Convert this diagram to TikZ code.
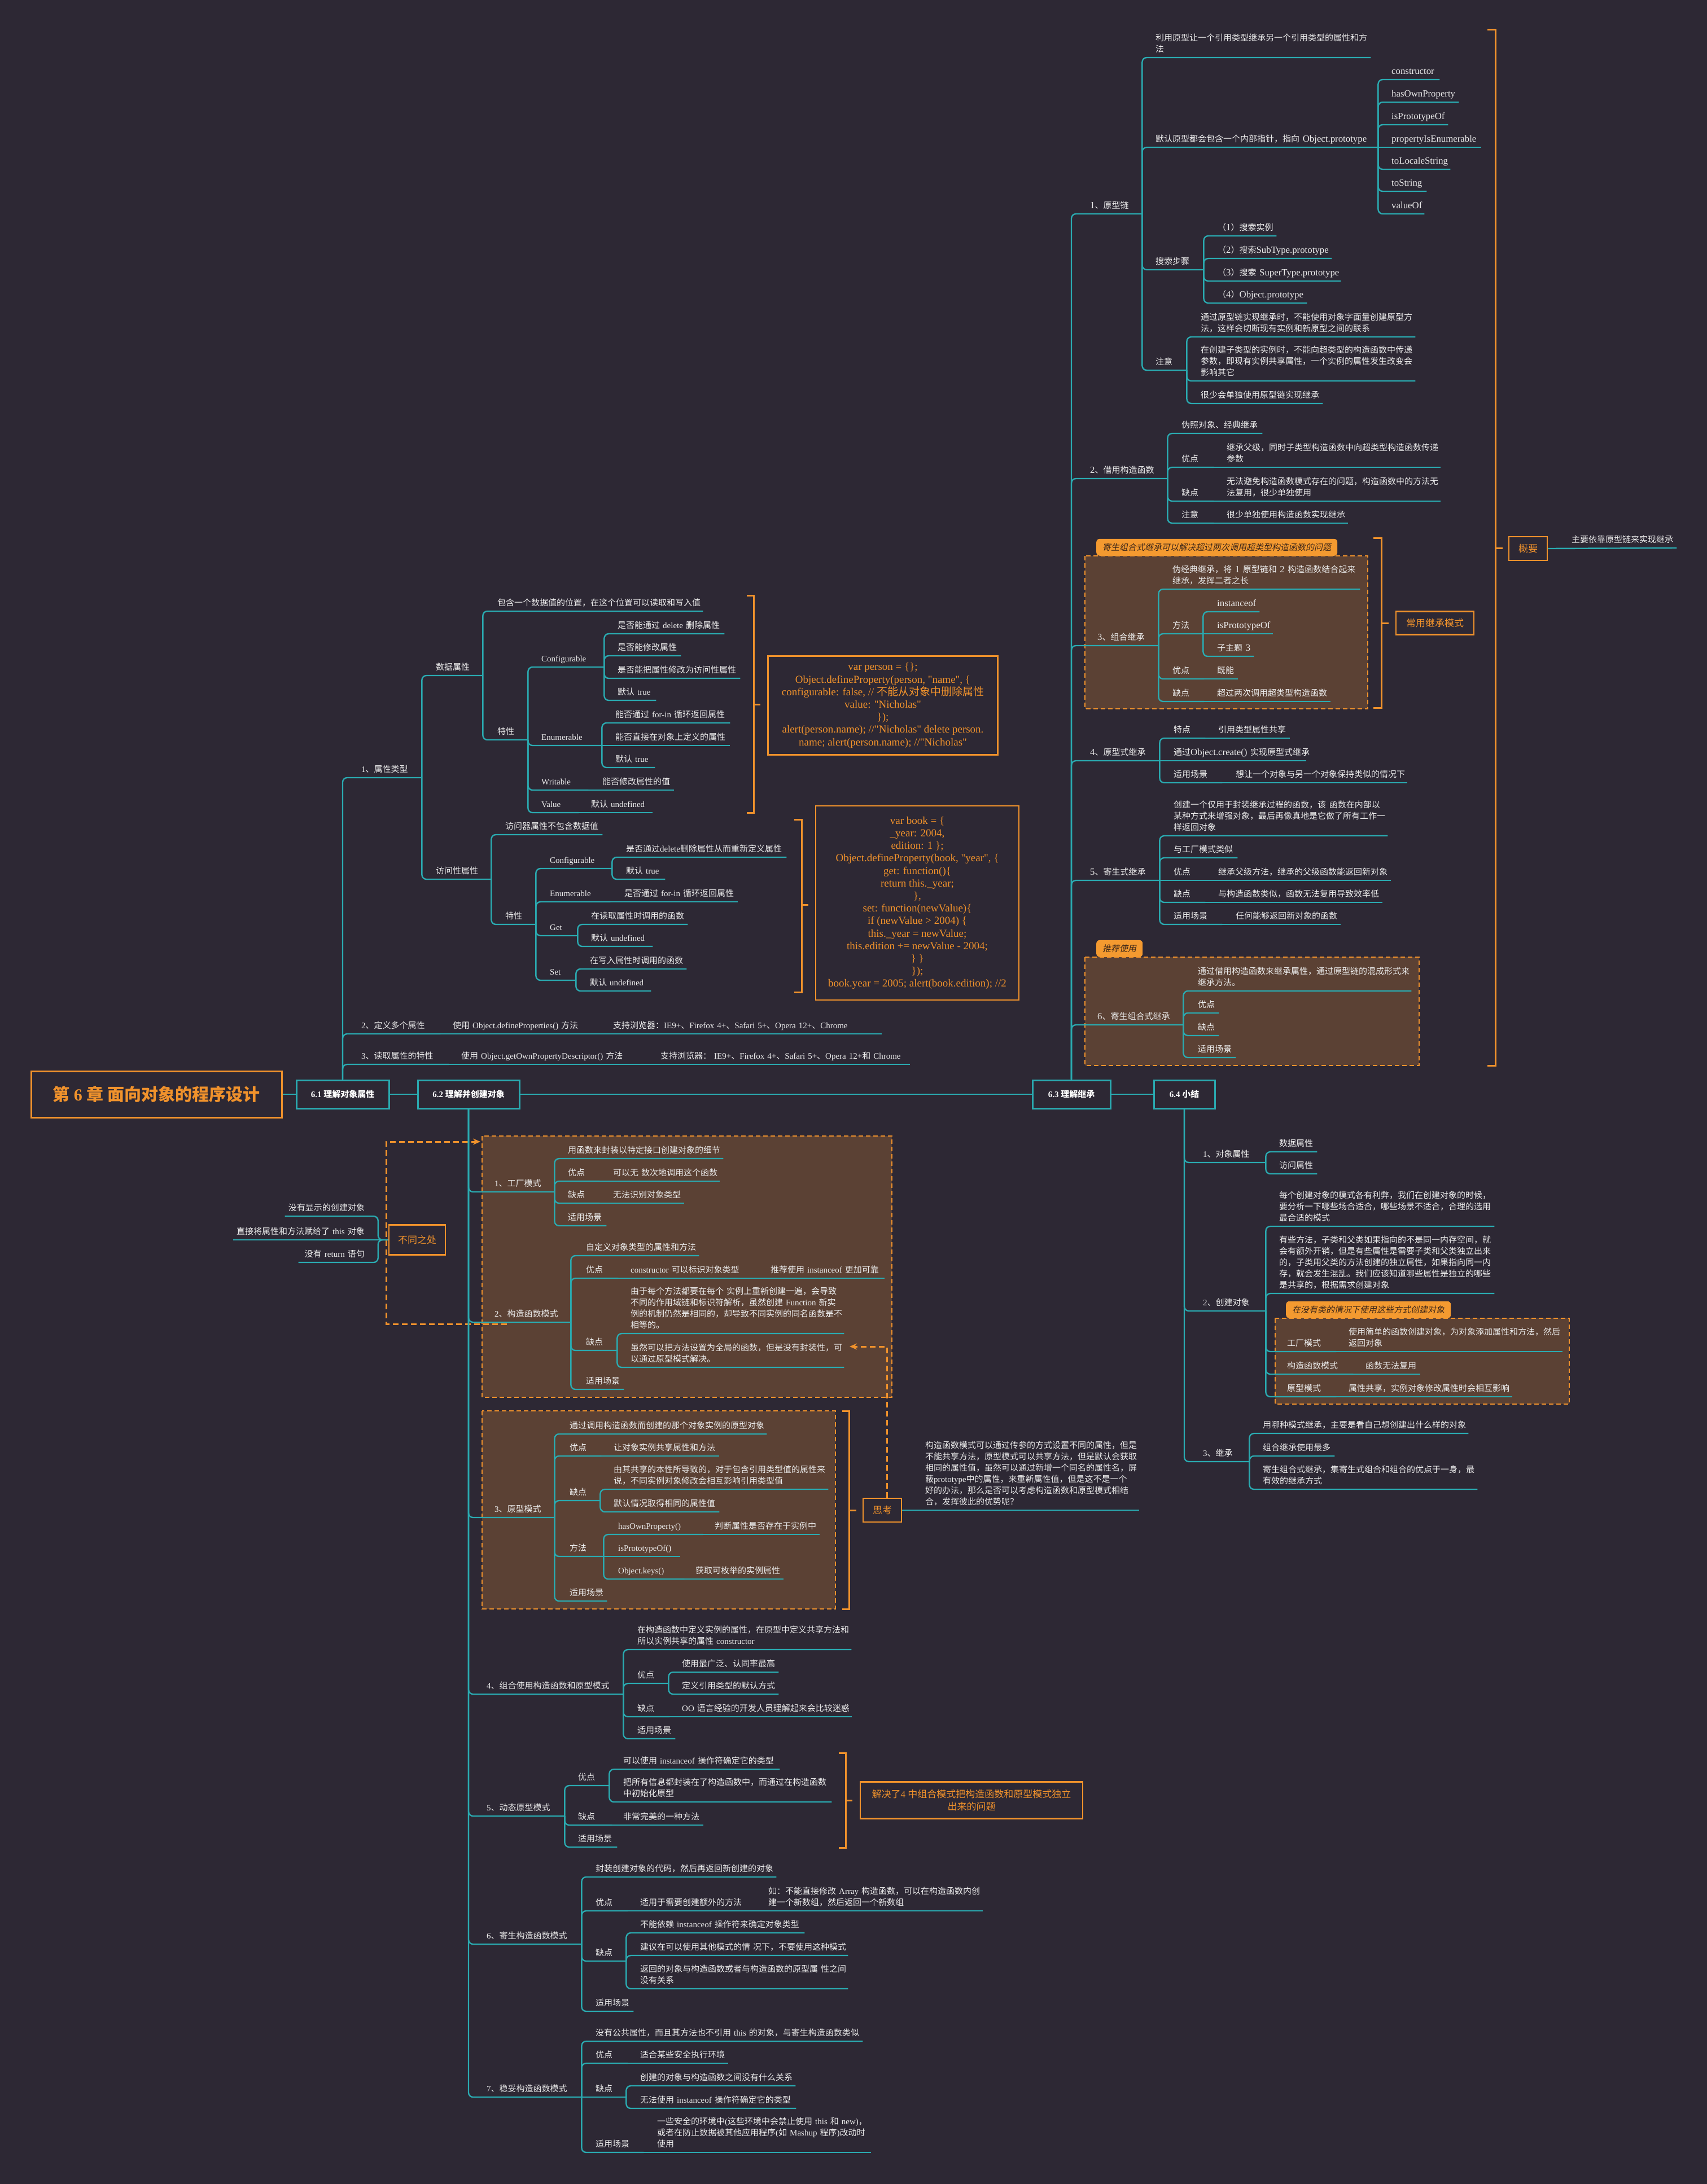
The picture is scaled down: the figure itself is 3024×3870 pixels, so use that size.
\documentclass[tikz,border=0pt]{standalone}
\usepackage{fontspec}
\setmainfont[Ligatures=TeXOff]{Liberation Serif}
\newfontfamily\widelatin[Scale=1.12,Ligatures=TeXOff]{Liberation Serif}
\newfontfamily\cjkfont[ItalicFont={Noto Sans CJK SC},ItalicFeatures={FakeSlant=0.2}]{Noto Sans CJK SC}
\usetikzlibrary{arrows.meta}

% Chinese characters switch to the CJK font by themselves
\XeTeXinterchartokenstate=1
\ifdefined\newXeTeXintercharclass \newXeTeXintercharclass\cjkcls \else \chardef\cjkcls=7 \fi
\newcount\cjkcnt
\newcommand\cjkrange[2]{%
  \cjkcnt=#1\relax
  \loop
    \XeTeXcharclass\cjkcnt=\cjkcls
  \ifnum\cjkcnt<#2\relax
    \advance\cjkcnt by 1
  \repeat}
\cjkrange{"3000}{"303F}
\cjkrange{"4E00}{"9FFF}
\cjkrange{"FF00}{"FFEF}
\let\latinfont\rmfamily
\XeTeXinterchartoks 0 \cjkcls = {\cjkfont}
\XeTeXinterchartoks 4095 \cjkcls = {\cjkfont}
\XeTeXinterchartoks \cjkcls 0 = {\latinfont}
\XeTeXinterchartoks \cjkcls 4095 = {\latinfont}

\newcommand\bodyfont{\fontsize{15}{20}\selectfont}

\definecolor{bgc}{HTML}{2D2834}
\definecolor{lnc}{HTML}{2AAAB0}
\definecolor{orc}{HTML}{F0922C}
\definecolor{brc}{HTML}{5B4134}
\definecolor{txc}{HTML}{EBEBEB}
\definecolor{tbc}{HTML}{F49A30}
\definecolor{tbt}{HTML}{3A2519}

\tikzset{
  tp/.style={anchor=south west, text width=#1pt, align=left, inner xsep=0pt, inner ysep=3pt,
    text=txc, font=\bodyfont, execute at end node={\strut}},
  tpw/.style={tp=#1, font={\bodyfont\let\latinfont\widelatin\widelatin}},
  tpl/.style={anchor=south east, text width=#1pt, align=right, inner xsep=0pt, inner ysep=3pt,
    text=txc, font=\bodyfont, execute at end node={\strut}},
  link/.style={draw=lnc, line width=2.4pt, rounded corners=8pt},
  sect/.style={draw=lnc, line width=3pt, fill=bgc, text=white, font=\bfseries\bodyfont,
    minimum height=50pt, inner sep=0pt},
  obox/.style={draw=orc, line width=2.5pt, fill=bgc, text=orc, font=\fontsize{17}{22}\selectfont,
    inner sep=0pt, align=center},
  code/.style={draw=orc, line width=2.5pt, text=orc, font=\fontsize{19}{22.2}\selectfont,
    align=center, inner sep=0pt},
  grp/.style={draw=orc, fill=brc, line width=2pt, dash pattern=on 8pt off 5pt},
  tab/.style={fill=tbc, rounded corners=6pt, anchor=south west, minimum height=30pt,
    inner xsep=11pt, inner ysep=0pt, text=tbt, font=\itshape\bodyfont},
  brk/.style={draw=orc, line width=3pt},
  rel/.style={draw=orc, line width=3pt, dash pattern=on 10pt off 6pt, -{Stealth[length=13pt,width=11pt]}}
}

\begin{document}
\begin{tikzpicture}[x=1pt,y=-1pt]
\useasboundingbox (0,0) rectangle (3024,3870);
\fill[bgc] (0,0) rectangle (3024,3870);

% brown groups and their tabs
\draw[grp] (854,2013) rectangle (1580,2476);
\draw[grp] (854,2500) rectangle (1480,2851);
\draw[grp] (1922,985) rectangle (2423,1256);
\draw[grp] (1922,1696) rectangle (2514,1888);
\draw[grp] (2259,2336) rectangle (2780,2488);
\node[tab] (tab1) at (1942,985) {寄生组合式继承可以解决超过两次调用超类型构造函数的问题};
\node[tab] (tab2) at (1942,1696) {推荐使用};
\node[tab] (tab3) at (2278,2336) {在没有类的情况下使用这些方式创建对象};

% brackets
\draw[brk] (1323,1055) -| (1335,1440) -- (1323,1440);
\draw[brk] (1335,1248) -- (1347,1248);
\draw[brk] (1407,1452) -| (1420,1758) -- (1407,1758);
\draw[brk] (1420,1603) -- (1432,1603);
\draw[brk] (2433,953) -| (2447,1254) -- (2433,1254);
\draw[brk] (2447,1104) -- (2460,1104);
\draw[brk] (2635,53) -| (2649,1888) -- (2635,1888);
\draw[brk] (2649,971) -- (2662,971);
\draw[brk] (1492,2500) -| (1504,2851) -- (1492,2851);
\draw[brk] (1504,2676) -- (1517,2676);
\draw[brk] (1486,3106) -| (1498,3274) -- (1486,3274);
\draw[brk] (1498,3190) -- (1510,3190);

% main line
\node[obox, line width=3pt, font=\bfseries\fontsize{30}{36}\selectfont, minimum width=444pt, minimum height=82pt] (title) at (277,1939) {第 6 章 面向对象的程序设计};
\node[sect, minimum width=164pt] (s61) at (607,1939) {6.1~理解对象属性};
\node[sect, minimum width=180pt] (s62) at (830,1939) {6.2~理解并创建对象};
\node[sect, minimum width=138pt] (s63) at (1898,1939) {6.3~理解继承};
\node[sect, minimum width=108pt] (s64) at (2098,1939) {6.4~小结};
\draw[link] (title) -- (s61);
\draw[link] (s61) -- (s62);
\draw[link] (s62) -- (s63);
\draw[link] (s63) -- (s64);

% code boxes and labels
\node[code, minimum width=407pt, minimum height=175pt] (code1) at (1564,1250) {var person = \{\};\\
Object.defineProperty(person, "name", \{\\
configurable: false,  // 不能从对象中删除属性\\
value: "Nicholas"\\
\});\\
alert(person.name); //"Nicholas" delete person.\\
name; alert(person.name); //"Nicholas"};
\node[code, minimum width=360pt, minimum height=344pt] (code2) at (1625,1600) {var book = \{\\
\_year: 2004,\\
edition: 1 \};\\
Object.defineProperty(book, "year", \{\\
get: function()\{\\
return this.\_year;\\
\},\\
set: function(newValue)\{\\
if (newValue > 2004) \{\\
this.\_year = newValue;\\
this.edition += newValue - 2004;\\
\} \}\\
\});\\
book.year = 2005; alert(book.edition); //2};
\node[obox, minimum width=68pt, minimum height=42pt] (gaiyao) at (2707,972) {概要};
\node[obox, minimum width=138pt, minimum height=41pt] (cyms) at (2542,1104) {常用继承模式};
\node[obox, minimum width=394pt, minimum height=65pt] (solve) at (1721,3190) {解决了4 中组合模式把构造函数和原型模式独立\\出来的问题};

% 6.1
\node[tp=107] (a1) at (640,1378) {1、属性类型};
\node[tp=83] (a11) at (772,1197) {数据属性};
\node[tp=364] (a111) at (881,1083) {包含一个数据值的位置，在这个位置可以读取和写入值};
\node[tp=54] (a112) at (881,1311) {特性};
\node[tp=111] (a1121) at (959,1182) {Configurable};
\node[tp=189] (a11211) at (1094,1123) {是否能通过~delete~删除属性};
\node[tp=112] (a11212) at (1094,1162) {是否能修改属性};
\node[tp=217] (a11213) at (1094,1202) {是否能把属性修改为访问性属性};
\node[tp=68] (a11214) at (1094,1241) {默认~true};
\node[tp=107] (a1122) at (959,1321) {Enumerable};
\node[tp=203] (a11221) at (1090,1281) {能否通过~for-in~循环返回属性};
\node[tp=203] (a11222) at (1090,1321) {能否直接在对象上定义的属性};
\node[tp=70] (a11223) at (1090,1360) {默认~true};
\node[tp=83] (a1123) at (959,1400) {Writable};
\node[tp=127] (a11231) at (1067,1400) {能否修改属性的值};
\node[tp=66] (a1124) at (959,1440) {Value};
\node[tp=109] (a11241) at (1047,1440) {默认~undefined};
\node[tp=98] (a12) at (772,1558) {访问性属性};
\node[tp=172] (a121) at (895,1479) {访问器属性不包含数据值};
\node[tp=54] (a122) at (895,1638) {特性};
\node[tp=110] (a1221) at (974,1539) {Configurable};
\node[tp=284] (a12211) at (1109,1519) {是否通过delete删除属性从而重新定义属性};
\node[tp=69] (a12212) at (1109,1558) {默认~true};
\node[tp=107] (a1222) at (974,1598) {Enumerable};
\node[tp=201] (a12221) at (1106,1598) {是否通过~for-in~循环返回属性};
\node[tp=49] (a1223) at (974,1658) {Get};
\node[tp=171] (a12231) at (1047,1638) {在读取属性时调用的函数};
\node[tp=109] (a12232) at (1047,1677) {默认~undefined};
\node[tp=46] (a1224) at (974,1737) {Set};
\node[tp=171] (a12241) at (1045,1717) {在写入属性时调用的函数};
\node[tp=108] (a12242) at (1045,1756) {默认~undefined};
\node[tp=140] (a2) at (640,1832) {2、定义多个属性};
\node[tp=263] (a21) at (802,1832) {使用~Object.defineProperties()~方法};
\node[tp=476] (a211) at (1086,1832) {支持浏览器：IE9+、Firefox~4+、Safari~5+、Opera~12+、Chrome};
\node[tp=155] (a3) at (640,1886) {3、读取属性的特性};
\node[tp=331] (a31) at (817,1886) {使用~Object.getOwnPropertyDescriptor()~方法};
\node[tp=442] (a311) at (1170,1886) {支持浏览器：~IE9+、Firefox~4+、Safari~5+、Opera~12+和~Chrome};

\foreach \ch in {a1,a2,a3} \draw[link] (s61.north) |- (\ch.south east);
\foreach \ch in {a11,a12} \draw[link] (a1.south east) |- (\ch.south east);
\foreach \ch in {a111,a112} \draw[link] (a11.south east) |- (\ch.south east);
\foreach \ch in {a1121,a1122,a1123,a1124} \draw[link] (a112.south east) |- (\ch.south east);
\foreach \ch in {a11211,a11212,a11213,a11214} \draw[link] (a1121.south east) |- (\ch.south east);
\foreach \ch in {a11221,a11223} \draw[link] (a1122.south east) |- (\ch.south east);
\draw[link] (a1122.south east) -- (a11222.south east);
\draw[link] (a1123.south east) -- (a11231.south east);
\draw[link] (a1124.south east) -- (a11241.south east);
\foreach \ch in {a121,a122} \draw[link] (a12.south east) |- (\ch.south east);
\foreach \ch in {a1221,a1222,a1223,a1224} \draw[link] (a122.south east) |- (\ch.south east);
\foreach \ch in {a12211,a12212} \draw[link] (a1221.south east) |- (\ch.south east);
\draw[link] (a1222.south east) -- (a12221.south east);
\foreach \ch in {a12231,a12232} \draw[link] (a1223.south east) |- (\ch.south east);
\foreach \ch in {a12241,a12242} \draw[link] (a1224.south east) |- (\ch.south east);
\draw[link] (a2.south east) -- (a21.south east) -- (a211.south east);
\draw[link] (a3.south east) -- (a31.south east) -- (a311.south east);

% 6.2
\node[tp=106] (b1) at (876,2112) {1、工厂模式};
\node[tp=275] (b11) at (1006,2053) {用函数来封装以特定接口创建对象的细节};
\node[tp=56] (b12) at (1006,2093) {优点};
\node[tp=189] (b121) at (1086,2093) {可以无~数次地调用这个函数};
\node[tp=56] (b13) at (1006,2132) {缺点};
\node[tp=126] (b131) at (1086,2132) {无法识别对象类型};
\node[tp=68] (b14) at (1006,2172) {适用场景};
\node[tp=135] (b2) at (876,2343) {2、构造函数模式};
\node[tp=200] (b21) at (1038,2225) {自定义对象类型的属性和方法};
\node[tp=57] (b22) at (1038,2265) {优点};
\node[tp=226] (b221) at (1117,2265) {constructor~可以标识对象类型};
\node[tp=202] (b222) at (1365,2265) {推荐使用~instanceof~更加可靠};
\node[tp=55] (b23) at (1038,2393) {缺点};
\node[tp=378] (b231) at (1117,2363) {由于每个方法都要在每个~实例上重新创建一遍，会导致\\不同的作用域链和标识符解析，虽然创建~Function~新实\\例的机制仍然是相同的，却导致不同实例的同名函数是不\\相等的。};
\node[tp=378] (b232) at (1117,2423) {虽然可以把方法设置为全局的函数，但是没有封装性，可\\以通过原型模式解决。};
\node[tp=67] (b24) at (1038,2462) {适用场景};
\node[tp=106] (c1) at (876,2689) {3、原型模式};
\node[tp=349] (c11) at (1009,2541) {通过调用构造函数而创建的那个对象实例的原型对象};
\node[tp=56] (c12) at (1009,2580) {优点};
\node[tp=187] (c121) at (1087,2580) {让对象实例共享属性和方法};
\node[tp=54] (c13) at (1009,2659) {缺点};
\node[tp=380] (c131) at (1087,2639) {由其共享的本性所导致的，对于包含引用类型值的属性来\\说，不同实例对象修改会相互影响引用类型值};
\node[tp=187] (c132) at (1087,2679) {默认情况取得相同的属性值};
\node[tp=60] (c14) at (1009,2758) {方法};
\node[tp=150] (c141) at (1095,2719) {hasOwnProperty()};
\node[tp=186] (c1411) at (1266,2719) {判断属性是否存在于实例中};
\node[tp=110] (c142) at (1095,2758) {isPrototypeOf()};
\node[tp=117] (c143) at (1095,2798) {Object.keys()};
\node[tp=156] (c1431) at (1232,2798) {获取可枚举的实例属性};
\node[tp=66] (c15) at (1009,2837) {适用场景};
\node[tp=242] (e1) at (862,3002) {4、组合使用构造函数和原型模式};
\node[tp=379] (e11) at (1129,2923) {在构造函数中定义实例的属性，在原型中定义共享方法和\\所以实例共享的属性~constructor};
\node[tp=55] (e12) at (1129,2983) {优点};
\node[tp=171] (e121) at (1208,2963) {使用最广泛、认同率最高};
\node[tp=171] (e122) at (1208,3002) {定义引用类型的默认方式};
\node[tp=57] (e13) at (1129,3042) {缺点};
\node[tp=301] (e131) at (1208,3042) {OO~语言经验的开发人员理解起来会比较迷惑};
\node[tp=67] (e14) at (1129,3081) {适用场景};
\node[tp=138] (f1) at (862,3218) {5、动态原型模式};
\node[tp=55] (f11) at (1024,3164) {优点};
\node[tp=277] (f111) at (1104,3135) {可以使用~instanceof~操作符确定它的类型};
\node[tp=369] (f112) at (1104,3193) {把所有信息都封装在了构造函数中，而通过在构造函数\\中初始化原型};
\node[tp=60] (f12) at (1024,3234) {缺点};
\node[tp=142] (f121) at (1104,3234) {非常完美的一种方法};
\node[tp=69] (f13) at (1024,3273) {适用场景};
\node[tp=168] (g1) at (862,3445) {6、寄生构造函数模式};
\node[tp=320] (g11) at (1055,3326) {封装创建对象的代码，然后再返回新创建的对象};
\node[tp=57] (g12) at (1055,3386) {优点};
\node[tp=206] (g121) at (1134,3386) {适用于需要创建额外的方法};
\node[tp=380] (g122) at (1361,3386) {如：不能直接修改~Array~构造函数，可以在构造函数内创\\建一个新数组，然后返回一个新数组};
\node[tp=54] (g13) at (1055,3475) {缺点};
\node[tp=291] (g131) at (1134,3425) {不能依赖~instanceof~操作符来确定对象类型};
\node[tp=368] (g132) at (1134,3465) {建议在可以使用其他模式的情~况下，不要使用这种模式};
\node[tp=368] (g133) at (1134,3524) {返回的对象与构造函数或者与构造函数的原型属~性之间\\没有关系};
\node[tp=67] (g14) at (1055,3564) {适用场景};
\node[tp=168] (h1) at (862,3716) {7、稳妥构造函数模式};
\node[tp=473] (h11) at (1055,3617) {没有公共属性，而且其方法也不引用~this~的对象，与寄生构造函数类似};
\node[tp=57] (h12) at (1055,3656) {优点};
\node[tp=156] (h121) at (1134,3656) {适合某些安全执行环境};
\node[tp=54] (h13) at (1055,3716) {缺点};
\node[tp=275] (h131) at (1134,3696) {创建的对象与构造函数之间没有什么关系};
\node[tp=276] (h132) at (1134,3736) {无法使用~instanceof~操作符确定它的类型};
\node[tp=85] (h14) at (1055,3814) {适用场景};
\node[tp=379] (h141) at (1164,3814) {一些安全的环境中(这些环境中会禁止使用~this~和~new)，\\或者在防止数据被其他应用程序(如~Mashup~程序)改动时\\使用};

% relations of 6.2
\coordinate (r1e) at (851,2023);
\draw[rel] ([xshift=22pt,yshift=-3pt]b2.south west) -| (684,2023) -- (r1e);
\node[obox, minimum width=100pt, minimum height=53pt] (diff) at (739,2197) {不同之处};
\node[tpl=141] (d1) at (646,2155) {没有显示的创建对象};
\node[tpl=233] (d2) at (646,2197) {直接将属性和方法赋给了~this~对象};
\node[tpl=117] (d3) at (646,2237) {没有~return~语句};
\draw[link] (diff.west) -- ++(-18,0) |- (d1.south west);
\draw[link] (diff.west) -- (d2.south west);
\draw[link] (diff.west) -- ++(-18,0) |- (d3.south west);
\node[obox, minimum width=68pt, minimum height=42pt] (think) at (1563,2676) {思考};
\node[tp=379] (th1) at (1639,2676) {构造函数模式可以通过传参的方式设置不同的属性，但是\\不能共享方法，原型模式可以共享方法，但是默认会获取\\相同的属性值，虽然可以通过新增一个同名的属性名，屏\\蔽prototype中的属性，来重新属性值，但是这不是一个\\好的办法，那么是否可以考虑构造函数和原型模式相结\\合，发挥彼此的优势呢？};
\draw[link] (think.east) -- (th1.south east);
\coordinate (r2e) at (1505,2386);
\draw[rel] ([xshift=8pt]think.north) |- (r2e);

\foreach \ch in {b1,b2,c1,e1,f1,g1,h1} \draw[link] (s62.south) |- (\ch.south east);
\foreach \ch in {b11,b12,b13,b14} \draw[link] (b1.south east) |- (\ch.south east);
\draw[link] (b12.south east) -- (b121.south east);
\draw[link] (b13.south east) -- (b131.south east);
\foreach \ch in {b21,b22,b23,b24} \draw[link] (b2.south east) |- (\ch.south east);
\draw[link] (b22.south east) -- (b221.south east) -- (b222.south east);
\foreach \ch in {b231,b232} \draw[link] (b23.south east) |- (\ch.south east);
\foreach \ch in {c11,c12,c13,c14,c15} \draw[link] (c1.south east) |- (\ch.south east);
\draw[link] (c12.south east) -- (c121.south east);
\foreach \ch in {c131,c132} \draw[link] (c13.south east) |- (\ch.south east);
\foreach \ch in {c141,c143} \draw[link] (c14.south east) |- (\ch.south east);
\draw[link] (c14.south east) -- (c142.south east);
\draw[link] (c141.south east) -- (c1411.south east);
\draw[link] (c143.south east) -- (c1431.south east);
\foreach \ch in {e11,e12,e13,e14} \draw[link] (e1.south east) |- (\ch.south east);
\foreach \ch in {e121,e122} \draw[link] (e12.south east) |- (\ch.south east);
\draw[link] (e13.south east) -- (e131.south east);
\foreach \ch in {f11,f12,f13} \draw[link] (f1.south east) |- (\ch.south east);
\foreach \ch in {f111,f112} \draw[link] (f11.south east) |- (\ch.south east);
\draw[link] (f12.south east) -- (f121.south east);
\foreach \ch in {g11,g12,g13,g14} \draw[link] (g1.south east) |- (\ch.south east);
\draw[link] (g12.south east) -- (g121.south east) -- (g122.south east);
\foreach \ch in {g131,g132,g133} \draw[link] (g13.south east) |- (\ch.south east);
\foreach \ch in {h11,h12,h14} \draw[link] (h1.south east) |- (\ch.south east);
\draw[link] (h1.south east) -- (h13.south east);
\draw[link] (h12.south east) -- (h121.south east);
\foreach \ch in {h131,h132} \draw[link] (h13.south east) |- (\ch.south east);
\draw[link] (h14.south east) -- (h141.south east);

% 6.3
\node[tpw=92] (p1) at (1931,379) {1、原型链};
\node[tpw=381] (p11) at (2047,102) {利用原型让一个引用类型继承另一个引用类型的属性和方\\法};
\node[tpw=394] (p12) at (2047,261) {默认原型都会包含一个内部指针，指向~Object.prototype};
\node[tpw=85] (p121) at (2465,141) {constructor};
\node[tpw=119] (p122) at (2465,181) {hasOwnProperty};
\node[tpw=100] (p123) at (2465,221) {isPrototypeOf};
\node[tpw=159] (p124) at (2465,261) {propertyIsEnumerable};
\node[tpw=104] (p125) at (2465,300) {toLocaleString};
\node[tpw=62] (p126) at (2465,339) {toString};
\node[tpw=58] (p127) at (2465,379) {valueOf};
\node[tpw=85] (p13) at (2047,478) {搜索步骤};
\node[tpw=104] (p131) at (2157,418) {（1）搜索实例};
\node[tpw=202] (p132) at (2157,458) {（2）搜索SubType.prototype};
\node[tpw=218] (p133) at (2157,498) {（3）搜索~SuperType.prototype};
\node[tpw=158] (p134) at (2157,537) {（4）Object.prototype};
\node[tpw=55] (p14) at (2047,656) {注意};
\node[tpw=380] (p141) at (2127,597) {通过原型链实现继承时，不能使用对象字面量创建原型方\\法，这样会切断现有实例和新原型之间的联系};
\node[tpw=380] (p142) at (2127,675) {在创建子类型的实例时，不能向超类型的构造函数中传递\\参数，即现有实例共享属性，一个实例的属性发生改变会\\影响其它};
\node[tpw=216] (p143) at (2127,715) {很少会单独使用原型链实现继承};
\node[tpw=137] (p2) at (1931,848) {2、借用构造函数};
\node[tpw=143] (p21) at (2093,768) {伪照对象、经典继承};
\node[tpw=57] (p22) at (2093,828) {优点};
\node[tpw=379] (p221) at (2173,828) {继承父级，同时子类型构造函数中向超类型构造函数传递\\参数};
\node[tpw=57] (p23) at (2093,888) {缺点};
\node[tpw=379] (p231) at (2173,888) {无法避免构造函数模式存在的问题，构造函数中的方法无\\法复用，很少单独使用};
\node[tpw=57] (p24) at (2093,927) {注意};
\node[tpw=215] (p241) at (2173,927) {很少单独使用构造函数实现继承};
\node[tpw=108] (p3) at (1944,1144) {3、组合继承};
\node[tpw=332] (p31) at (2077,1044) {伪经典继承，将~1~原型链和~2~构造函数结合起来\\继承，发挥二者之长};
\node[tpw=54] (p32) at (2077,1123) {方法};
\node[tpw=75] (p321) at (2156,1084) {instanceof};
\node[tpw=99] (p322) at (2156,1123) {isPrototypeOf};
\node[tpw=65] (p323) at (2156,1163) {子主题~3};
\node[tpw=56] (p33) at (2077,1203) {优点};
\node[tpw=37] (p331) at (2156,1203) {既能};
\node[tpw=56] (p34) at (2077,1243) {缺点};
\node[tpw=201] (p341) at (2156,1243) {超过两次调用超类型构造函数};
\node[tpw=123] (p4) at (1931,1348) {4、原型式继承};
\node[tpw=56] (p41) at (2079,1308) {特点};
\node[tpw=127] (p411) at (2158,1308) {引用类型属性共享};
\node[tpw=235] (p42) at (2079,1348) {通过Object.create()~实现原型式继承};
\node[tpw=86] (p43) at (2079,1387) {适用场景};
\node[tpw=304] (p431) at (2189,1387) {想让一个对象与另一个对象保持类似的情况下};
\node[tpw=123] (p5) at (1931,1560) {5、寄生式继承};
\node[tpw=379] (p51) at (2079,1481) {创建一个仅用于封装继承过程的函数，该~函数在内部以\\某种方式来增强对象，最后再像真地是它做了所有工作一\\样返回对象};
\node[tpw=113] (p52) at (2079,1520) {与工厂模式类似};
\node[tpw=56] (p53) at (2079,1560) {优点};
\node[tpw=306] (p531) at (2158,1560) {继承父级方法，继承的父级函数能返回新对象};
\node[tpw=56] (p54) at (2079,1599) {缺点};
\node[tpw=291] (p541) at (2158,1599) {与构造函数类似，函数无法复用导致效率低};
\node[tpw=86] (p55) at (2079,1638) {适用场景};
\node[tpw=186] (p551) at (2189,1638) {任何能够返回新对象的函数};
\node[tpw=152] (p6) at (1944,1816) {6、寄生组合式继承};
\node[tpw=378] (p61) at (2122,1756) {通过借用构造函数来继承属性，通过原型链的混成形式来\\继承方法。};
\node[tpw=37] (p62) at (2122,1795) {优点};
\node[tpw=37] (p63) at (2122,1835) {缺点};
\node[tpw=67] (p64) at (2122,1874) {适用场景};
\node[tpw=186] (gy1) at (2784,971) {主要依靠原型链来实现继承};
\draw[link] (gaiyao.east) -- (gy1.south east);

\foreach \ch in {p1,p2,p3,p4,p5,p6} \draw[link] (s63.north) |- (\ch.south east);
\foreach \ch in {p11,p12,p13,p14} \draw[link] (p1.south east) |- (\ch.south east);
\foreach \ch in {p121,p122,p123,p125,p126,p127} \draw[link] (p12.south east) |- (\ch.south east);
\draw[link] (p12.south east) -- (p124.south east);
\foreach \ch in {p131,p132,p133,p134} \draw[link] (p13.south east) |- (\ch.south east);
\foreach \ch in {p141,p142,p143} \draw[link] (p14.south east) |- (\ch.south east);
\foreach \ch in {p21,p22,p23,p24} \draw[link] (p2.south east) |- (\ch.south east);
\draw[link] (p22.south east) -- (p221.south east);
\draw[link] (p23.south east) -- (p231.south east);
\draw[link] (p24.south east) -- (p241.south east);
\foreach \ch in {p31,p32,p33,p34} \draw[link] (p3.south east) |- (\ch.south east);
\foreach \ch in {p321,p323} \draw[link] (p32.south east) |- (\ch.south east);
\draw[link] (p32.south east) -- (p322.south east);
\draw[link] (p33.south east) -- (p331.south east);
\draw[link] (p34.south east) -- (p341.south east);
\foreach \ch in {p41,p43} \draw[link] (p4.south east) |- (\ch.south east);
\draw[link] (p4.south east) -- (p42.south east);
\draw[link] (p41.south east) -- (p411.south east);
\draw[link] (p43.south east) -- (p431.south east);
\foreach \ch in {p51,p52,p54,p55} \draw[link] (p5.south east) |- (\ch.south east);
\draw[link] (p5.south east) -- (p53.south east) -- (p531.south east);
\draw[link] (p54.south east) -- (p541.south east);
\draw[link] (p55.south east) -- (p551.south east);
\foreach \ch in {p61,p62,p63,p64} \draw[link] (p6.south east) |- (\ch.south east);

% 6.4
\node[tp=111] (q1) at (2131,2060) {1、对象属性};
\node[tp=67] (q11) at (2266,2041) {数据属性};
\node[tp=67] (q12) at (2266,2080) {访问属性};
\node[tp=111] (q2) at (2131,2323) {2、创建对象};
\node[tp=381] (q21) at (2266,2173) {每个创建对象的模式各有利弊，我们在创建对象的时候，\\要分析一下哪些场合适合，哪些场景不适合，合理的选用\\最合适的模式};
\node[tp=381] (q22) at (2266,2292) {有些方法，子类和父类如果指向的不是同一内存空间，就\\会有额外开销，但是有些属性是需要子类和父类独立出来\\的，子类用父类的方法创建的独立属性，如果指向同一内\\存，就会发生混乱。我们应该知道哪些属性是独立的哪些\\是共享的，根据需求创建对象};
\node[tp=87] (q23) at (2280,2395) {工厂模式};
\node[tp=379] (q231) at (2389,2395) {使用简单的函数创建对象，为对象添加属性和方法，然后\\返回对象};
\node[tp=117] (q24) at (2280,2435) {构造函数模式};
\node[tp=97] (q241) at (2419,2435) {函数无法复用};
\node[tp=87] (q25) at (2280,2475) {原型模式};
\node[tp=290] (q251) at (2389,2475) {属性共享，实例对象修改属性时会相互影响};
\node[tp=82] (q3) at (2131,2590) {3、继承};
\node[tp=364] (q31) at (2237,2540) {用哪种模式继承，主要是看自己想创建出什么样的对象};
\node[tp=127] (q32) at (2237,2580) {组合继承使用最多};
\node[tp=380] (q33) at (2237,2639) {寄生组合式继承，集寄生式组合和组合的优点于一身，最\\有效的继承方式};

\foreach \ch in {q1,q2,q3} \draw[link] (s64.south) |- (\ch.south east);
\foreach \ch in {q11,q12} \draw[link] (q1.south east) |- (\ch.south east);
\foreach \ch in {q21,q22,q23,q24,q25} \draw[link] (q2.south east) |- (\ch.south east);
\draw[link] (q23.south east) -- (q231.south east);
\draw[link] (q24.south east) -- (q241.south east);
\draw[link] (q25.south east) -- (q251.south east);
\foreach \ch in {q31,q32,q33} \draw[link] (q3.south east) |- (\ch.south east);
\end{tikzpicture}
\end{document}
